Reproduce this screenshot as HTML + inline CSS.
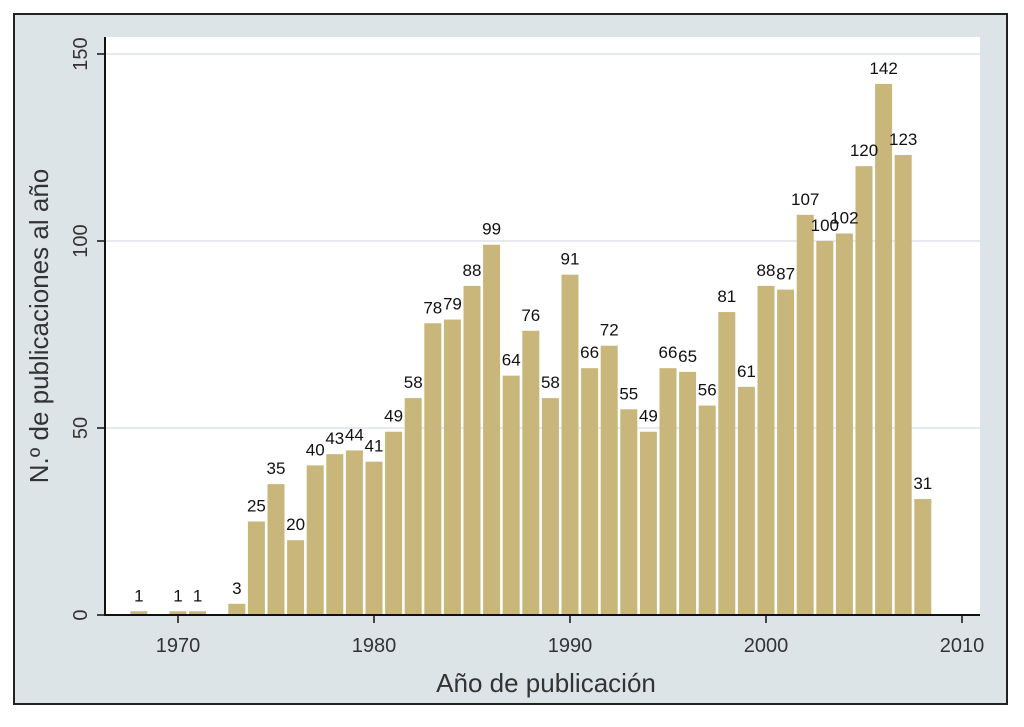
<!DOCTYPE html>
<html><head><meta charset="utf-8"><style>
html,body{margin:0;padding:0;background:#fff}
svg{display:block;font-family:"Liberation Sans",sans-serif}
</style></head><body>
<svg id="chart" width="1024" height="727">
<rect x="14" y="14" width="993" height="690" fill="#dde4e8" stroke="#222" stroke-width="2"/>
<rect x="105" y="37" width="875" height="578" fill="#fff"/>
<g id="grid"></g><g id="bars"></g><g id="labels"></g><g id="axes"></g>
<text x="546" y="692" font-size="26" fill="#333" text-anchor="middle">Año de publicación</text>
<text transform="translate(48,326) rotate(-90)" font-size="26" fill="#333" text-anchor="middle">N.º de publicaciones al año</text>
</svg>
<script>
const years=[1968,1970,1971,1973,1974,1975,1976,1977,1978,1979,1980,1981,1982,1983,1984,1985,1986,1987,1988,1989,1990,1991,1992,1993,1994,1995,1996,1997,1998,1999,2000,2001,2002,2003,2004,2005,2006,2007,2008];
const counts=[1,1,1,3,25,35,20,40,43,44,41,49,58,78,79,88,99,64,76,58,91,66,72,55,49,66,65,56,81,61,88,87,107,100,102,120,142,123,31];
const yTicks=[0,50,100,150];
const xTicks=[1970,1980,1990,2000,2010];
const NS="http://www.w3.org/2000/svg";
const xS=v=>178+(v-1970)*19.6;
const yS=v=>615-v*3.74;
function mk(t,a,p){const e=document.createElementNS(NS,t);for(const k in a)e.setAttribute(k,a[k]);p.appendChild(e);return e;}
const grid=document.getElementById('grid'),bars=document.getElementById('bars'),labels=document.getElementById('labels'),axes=document.getElementById('axes');
yTicks.forEach(t=>{
 if(t>0){const g=mk('line',{x1:105,x2:980,y1:yS(t),y2:yS(t),stroke:'#dde4e8','stroke-width':1.5},grid);
 
 }
 const tk=mk('line',{x1:97,x2:105,y1:yS(t),y2:yS(t),stroke:'#111','stroke-width':1.5},axes);
 
 
 const tx=mk('text',{transform:`translate(87,${yS(t)}) rotate(-90)`,'font-size':20,fill:'#333','text-anchor':'middle'},axes);
 tx.textContent=t;
 
 
});
years.forEach((y,i)=>{
 const v=counts[i];
 const r=mk('rect',{x:xS(y)-8.5,y:yS(v),width:17,height:615-yS(v),fill:'#c9b67b'},bars);
 
 
 const t=mk('text',{x:xS(y),y:yS(v)-10,'font-size':17,fill:'#111','text-anchor':'middle'},labels);
 t.textContent=v;
 
 
});
const ya=mk('line',{x1:105,x2:105,y1:37,y2:615,stroke:'#111','stroke-width':2},axes);


const xa=mk('line',{x1:104,x2:980,y1:615,y2:615,stroke:'#111','stroke-width':2},axes);


xTicks.forEach(t=>{
 const tk=mk('line',{x1:xS(t),x2:xS(t),y1:615,y2:623,stroke:'#111','stroke-width':1.5},axes);
 
 
 const tx=mk('text',{x:xS(t),y:652,'font-size':20,fill:'#333','text-anchor':'middle'},axes);
 tx.textContent=t;
 
 
});
</script>
</body></html>
